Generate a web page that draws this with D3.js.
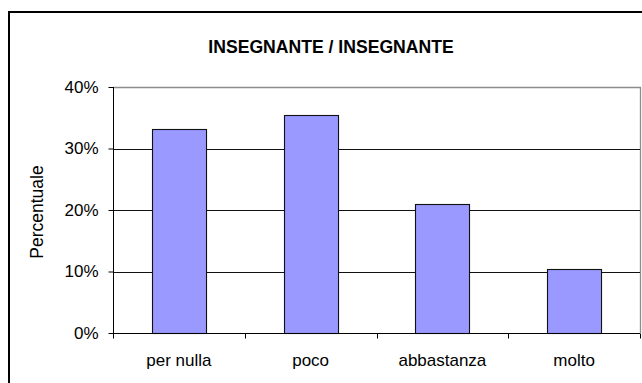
<!DOCTYPE html>
<html>
<head>
<meta charset="utf-8">
<script src="https://cdn.jsdelivr.net/npm/d3@7/dist/d3.min.js"></script>
<style>
  html, body { margin: 0; padding: 0; background: #fff; }
  svg { display: block; }
  text { font-family: "Liberation Sans", Arial, sans-serif; fill: #000; }
</style>
</head>
<body>
<svg id="chart" width="642" height="383"></svg>
<script>
// Response categories and their percentages
const categories = ["per nulla", "poco", "abbastanza", "molto"];
const values = [33.2, 35.5, 20.9, 10.4];
const yTicks = [0, 10, 20, 30, 40];
const chartTitle = "INSEGNANTE / INSEGNANTE";
const yLabel = "Percentuale";

const svg = d3.select("#chart");
const W = 642, H = 383;
const FONT = "'Liberation Sans', Arial, sans-serif";

// Chart frame (extends past the right and bottom edges)
svg.append("rect")
  .attr("x", 9).attr("y", 12)
  .attr("width", W + 20).attr("height", H + 20)
  .attr("fill", "#fff").attr("stroke", "#000").attr("stroke-width", 2);

const plot = { left: 113, right: 640, top: 87, bottom: 333 };

const x = d3.scaleBand()
  .domain(categories)
  .range([plot.left, plot.right])
  .paddingInner(0.59)
  .paddingOuter(0.295);

const y = d3.scaleLinear()
  .domain([0, 40])
  .range([plot.bottom, plot.top]);

// Plot-area border (grey, top and right)
svg.append("path")
  .attr("d", `M${plot.left},${y(40) + 0.5}H${plot.right + 0.5}V${plot.bottom}`)
  .attr("fill", "none").attr("stroke", "#8c8c8c").attr("stroke-width", 1.3);

// Horizontal gridlines
svg.append("g")
  .selectAll("line")
  .data(yTicks.filter(d => d > 0 && d < 40))
  .join("line")
  .attr("x1", plot.left).attr("x2", plot.right)
  .attr("y1", d => Math.round(y(d)) + 0.5).attr("y2", d => Math.round(y(d)) + 0.5)
  .attr("stroke", "#111").attr("stroke-width", 1);

// Bars
svg.append("g")
  .selectAll("rect")
  .data(values)
  .join("rect")
  .attr("x", (d, i) => Math.round(x(categories[i])) + 0.5)
  .attr("y", d => Math.round(y(d)) + 0.5)
  .attr("width", x.bandwidth())
  .attr("height", d => Math.round(y(0)) - Math.round(y(d)))
  .attr("fill", "#9999ff")
  .attr("stroke", "#111").attr("stroke-width", 1.1);

// Y axis
const yAxis = d3.axisLeft(y)
  .tickValues(yTicks)
  .tickFormat(d => d + "%")
  .tickSize(5)
  .tickPadding(10);
const gy = svg.append("g")
  .attr("transform", `translate(${plot.left + 0.5},0)`)
  .call(yAxis);
gy.select(".domain").attr("stroke", "#000").attr("d", `M0,${y(40)}V${y(0)}`);
gy.selectAll(".tick line").attr("stroke", "#000");
gy.selectAll(".tick text")
  .attr("font-size", 17)
  .attr("font-family", FONT)
  .attr("fill", "#000");

// X axis with ticks between categories
const xAxis = d3.axisBottom(x).tickSize(0).tickPadding(20);
const gx = svg.append("g")
  .attr("transform", `translate(0,${plot.bottom + 0.5})`)
  .call(xAxis);
gx.select(".domain").attr("stroke", "#000").attr("d", `M${plot.left},0H${plot.right}`);
gx.selectAll(".tick text")
  .attr("font-size", 17)
  .attr("font-family", FONT)
  .attr("fill", "#000");

const boundaries = d3.range(categories.length + 1).map(i => plot.left + i * (plot.right - plot.left) / categories.length);
gx.append("g")
  .selectAll("line")
  .data(boundaries)
  .join("line")
  .attr("x1", d => Math.round(d) + 0.5).attr("x2", d => Math.round(d) + 0.5)
  .attr("y1", 0).attr("y2", 5)
  .attr("stroke", "#000");

// Title
svg.append("text")
  .attr("x", 331).attr("y", 53)
  .attr("text-anchor", "middle")
  .attr("font-size", 17.6)
  .attr("font-weight", "bold")
  .attr("font-family", FONT)
  .text(chartTitle);

// Y axis label
svg.append("text")
  .attr("transform", `translate(43,${(plot.top + plot.bottom) / 2 + 2}) rotate(-90)`)
  .attr("text-anchor", "middle")
  .attr("font-size", 17.5)
  .attr("font-family", FONT)
  .text(yLabel);
</script>
</body>
</html>
